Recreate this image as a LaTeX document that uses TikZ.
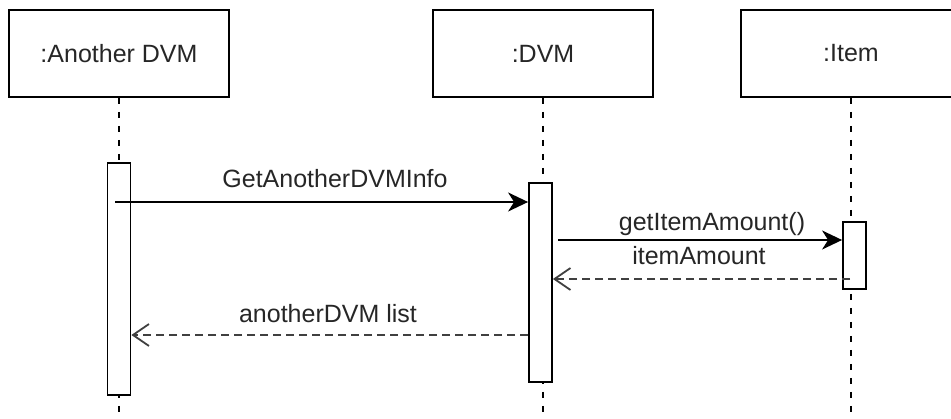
\documentclass[tikz,border=0pt]{standalone}
\usepackage{fontspec}
\setmainfont{Liberation Sans}
\usetikzlibrary{arrows.meta}

\begin{document}
\begin{tikzpicture}[x=1pt,y=-1pt]
  \tikzstyle{every node}=[font=\fontsize{25}{30}\selectfont,text=black!85]
  \tikzstyle{head}=[draw,line width=2pt,minimum width=220pt,minimum height=87pt,inner sep=0pt]
  \tikzstyle{bar}=[draw,fill=white,line width=1.8pt,minimum width=23pt,inner sep=0pt]
  \tikzstyle{life}=[line width=1.6pt,dash pattern=on 6pt off 8pt]
  \tikzstyle{msg}=[line width=1.8pt,-{Stealth[length=20pt,width=19pt,inset=6pt]}]
  \tikzstyle{ret}=[line width=1.6pt,black!75,dash pattern=on 8pt off 5pt,
    -{Straight Barb[length=16pt,width=22pt,line width=1.8pt]}]
  \useasboundingbox (0,0) rectangle (951,419);
  \clip (0,0) rectangle (951,419);
  % heads
  \node[head] (another) at (119,53.5) {:Another DVM};
  \node[head] (dvm)     at (543,53.5) {:DVM};
  \node[head] (item)    at (851,53.5) {:Item};
  % lifelines
  \coordinate (anotherEnd) at (119,419);
  \coordinate (dvmEnd)     at (543,419);
  \coordinate (itemEnd)    at (851,419);
  \path[draw,life]
  (another) edge (anotherEnd)
  (dvm)     edge (dvmEnd)
  (item)    edge (itemEnd);
  % activations
  \node[bar,minimum height=232pt] (actA) at (119,279)   {};
  \node[bar,minimum height=199pt] (actD) at (540.5,282.5) {};
  \node[bar,minimum height=67pt]  (actI) at (854.5,255.5) {};
  % messages
  \coordinate (m1) at (115,202);
  \coordinate (m2) at (558,240);
  \coordinate (r1) at (850,279);
  \coordinate (r2) at (actD.west |- 0,335);
  \draw[msg] (m1) -- (m1 -| actD.west);
  \draw[msg] (m2) -- (m2 -| actI.west);
  \draw[ret] (r1) -- (r1 -| actD.east);
  \draw[ret] (r2) -- (r2 -| actA.east);
  % labels
  \node[anchor=base] (l1) at (335,188) {GetAnotherDVMInfo};
  \node[anchor=base] (l2) at (712,231) {getItemAmount()};
  \node[anchor=base] (l3) at (699,265) {itemAmount};
  \node[anchor=base] (l4) at (328,323) {anotherDVM list};
\end{tikzpicture}
\end{document}
